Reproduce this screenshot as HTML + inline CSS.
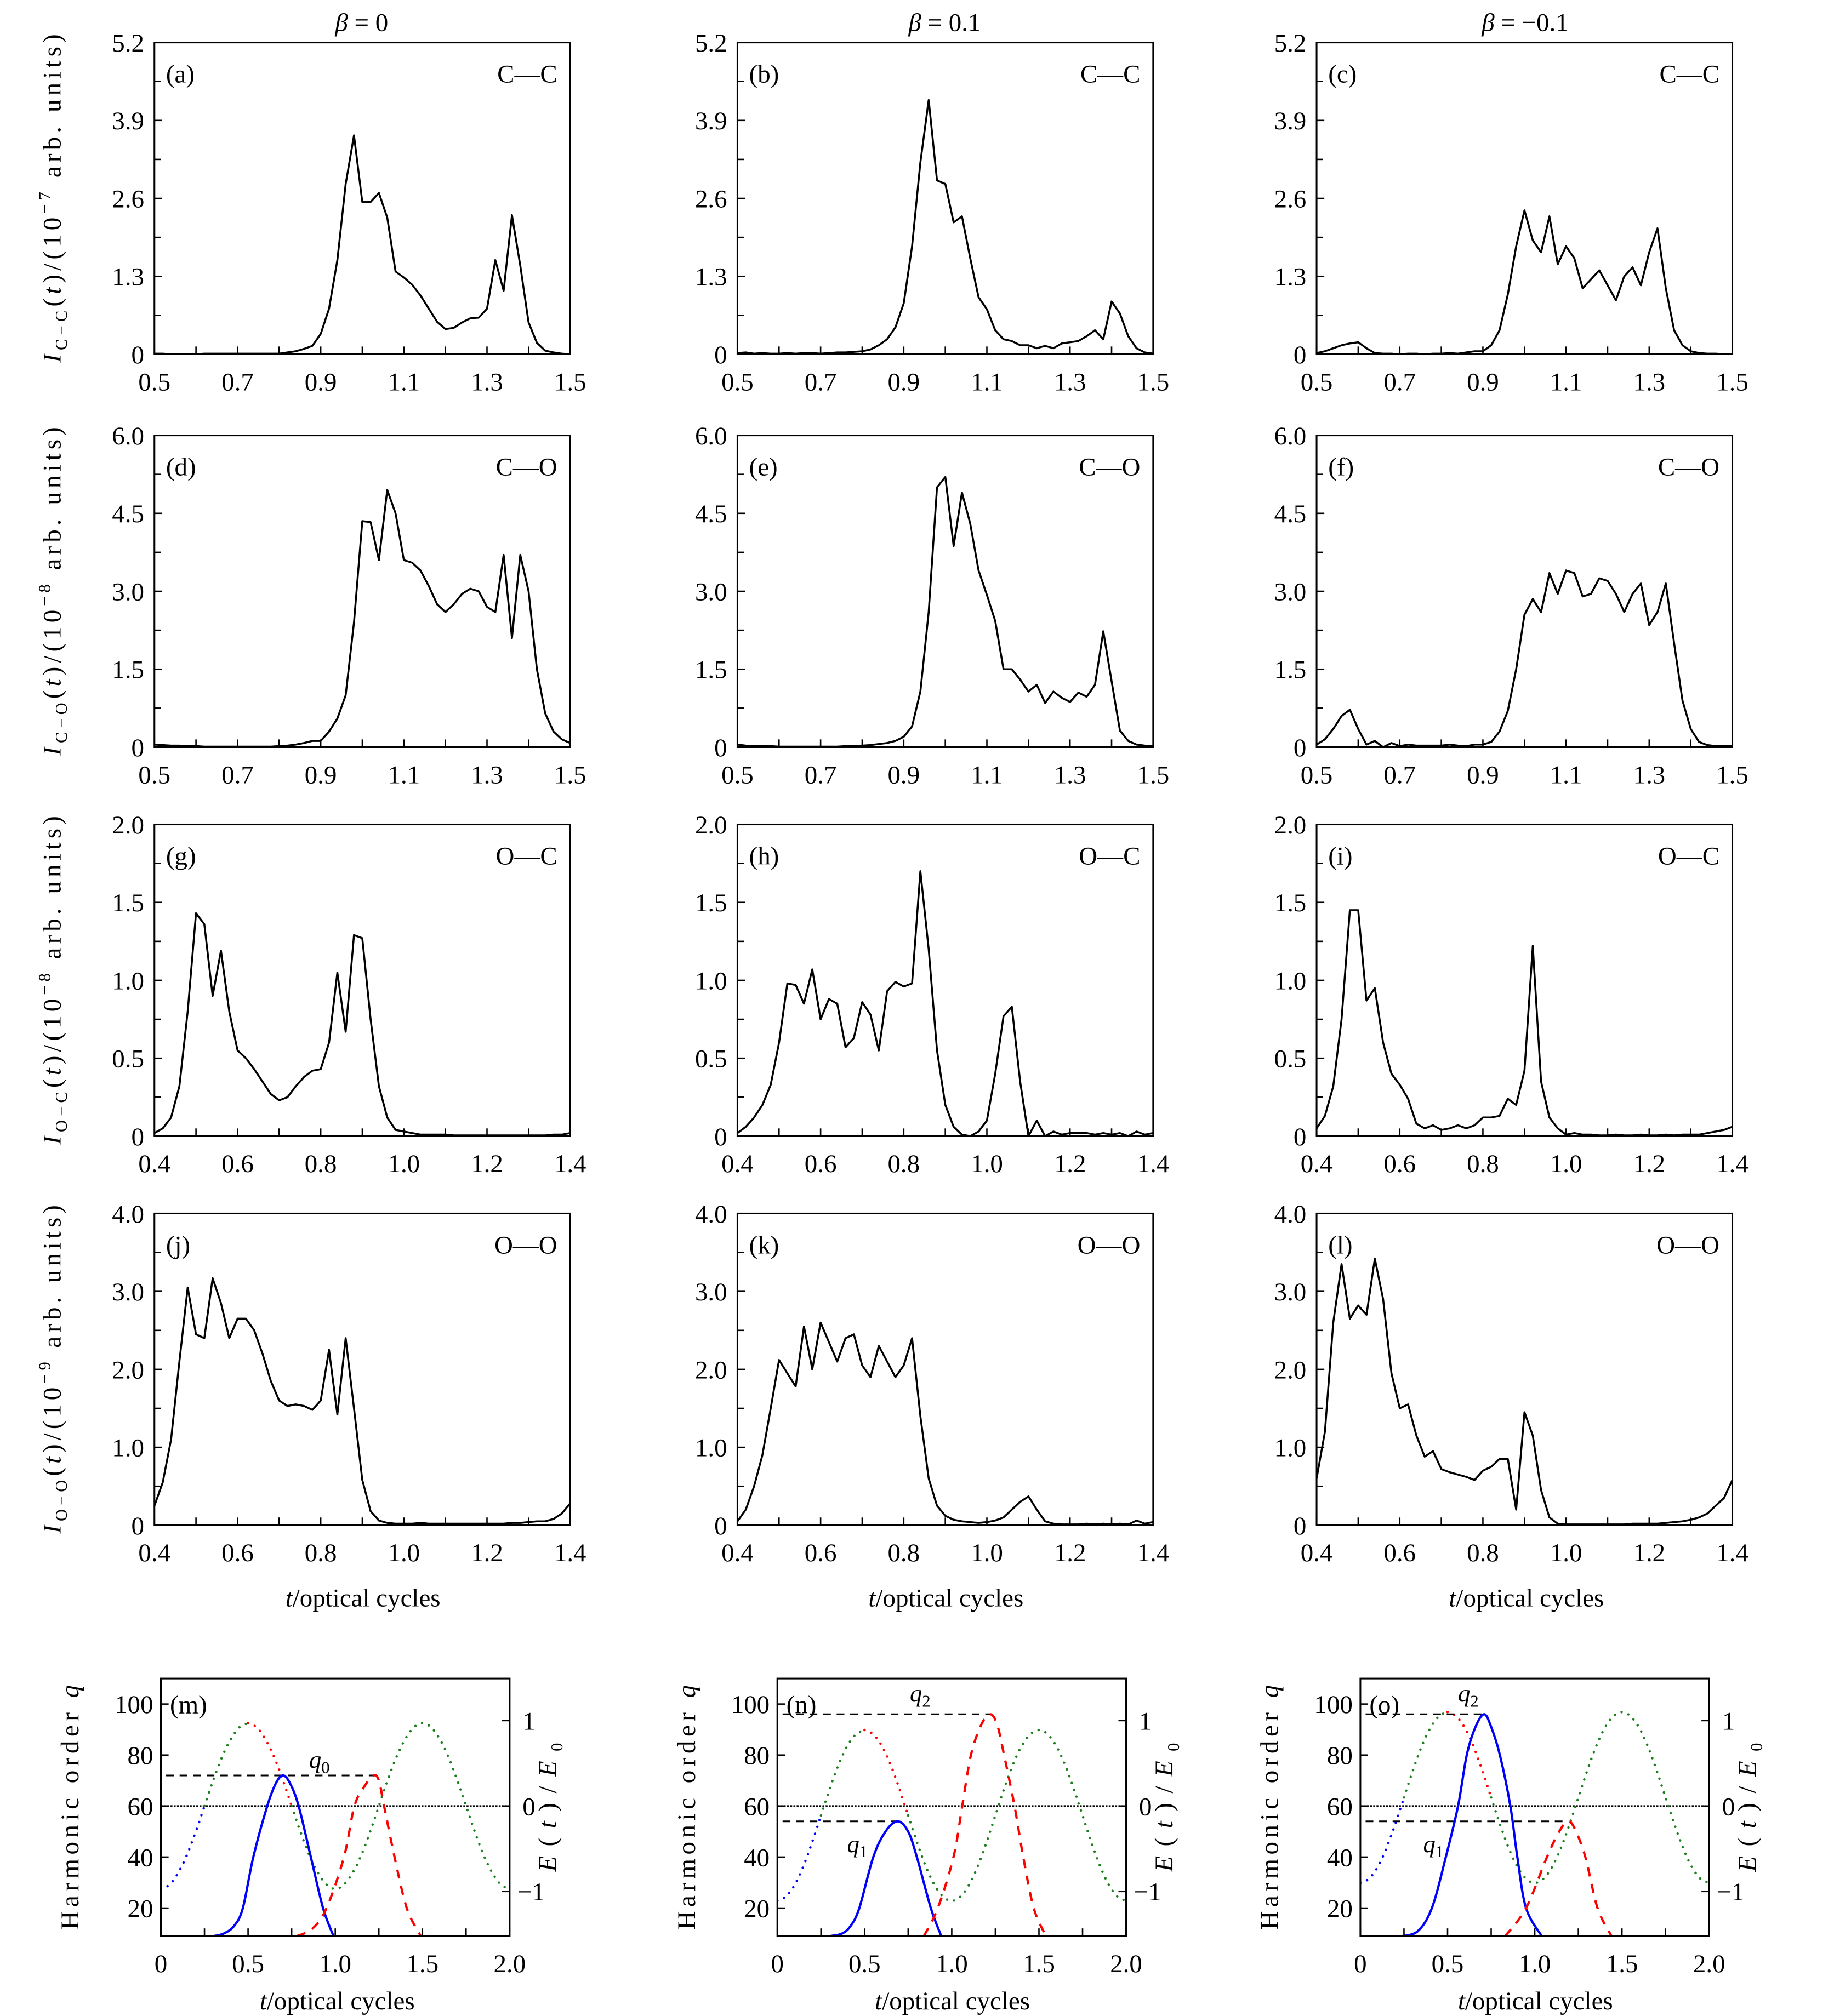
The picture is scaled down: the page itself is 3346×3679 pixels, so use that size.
<!DOCTYPE html>
<html><head><meta charset="utf-8">
<style>
html,body{margin:0;padding:0;background:#fff;}
svg{display:block;}
text{font-family:"Liberation Serif",serif;fill:#000;}
</style></head>
<body>
<svg id="fig" xmlns="http://www.w3.org/2000/svg" viewBox="0 0 1425 1565" width="3346" height="3679" preserveAspectRatio="none">
<rect x="0" y="0" width="1425" height="1565" fill="#fff"/>
<g font-size="20" text-anchor="middle">
 <text x="281" y="24"><tspan font-style="italic">β</tspan> = 0</text>
 <text x="734" y="24"><tspan font-style="italic">β</tspan> = 0.1</text>
 <text x="1185" y="24"><tspan font-style="italic">β</tspan> = −0.1</text>
</g>
<g font-size="20" text-anchor="middle">
 <text textLength="255" lengthAdjust="spacing" transform="translate(47,154) rotate(-90)"><tspan font-style="italic">I</tspan><tspan font-size="13" dy="5">C−C</tspan><tspan dy="-5">(</tspan><tspan font-style="italic">t</tspan>)/(10<tspan font-size="13" dy="-8">−7</tspan><tspan dy="8"> arb. units)</tspan></text>
 <text textLength="255" lengthAdjust="spacing" transform="translate(47,459) rotate(-90)"><tspan font-style="italic">I</tspan><tspan font-size="13" dy="5">C−O</tspan><tspan dy="-5">(</tspan><tspan font-style="italic">t</tspan>)/(10<tspan font-size="13" dy="-8">−8</tspan><tspan dy="8"> arb. units)</tspan></text>
 <text textLength="255" lengthAdjust="spacing" transform="translate(47,761) rotate(-90)"><tspan font-style="italic">I</tspan><tspan font-size="13" dy="5">O−C</tspan><tspan dy="-5">(</tspan><tspan font-style="italic">t</tspan>)/(10<tspan font-size="13" dy="-8">−8</tspan><tspan dy="8"> arb. units)</tspan></text>
 <text textLength="255" lengthAdjust="spacing" transform="translate(47,1063) rotate(-90)"><tspan font-style="italic">I</tspan><tspan font-size="13" dy="5">O−O</tspan><tspan dy="-5">(</tspan><tspan font-style="italic">t</tspan>)/(10<tspan font-size="13" dy="-8">−9</tspan><tspan dy="8"> arb. units)</tspan></text>
</g>
<g font-size="20" text-anchor="middle">
 <text x="282" y="1247"><tspan font-style="italic">t</tspan>/optical cycles</text>
 <text x="735" y="1247"><tspan font-style="italic">t</tspan>/optical cycles</text>
 <text x="1186" y="1247"><tspan font-style="italic">t</tspan>/optical cycles</text>
 <text x="262" y="1560"><tspan font-style="italic">t</tspan>/optical cycles</text>
 <text x="740" y="1560"><tspan font-style="italic">t</tspan>/optical cycles</text>
 <text x="1193" y="1560"><tspan font-style="italic">t</tspan>/optical cycles</text>
</g>
<g font-size="20" text-anchor="middle">
 <text textLength="190" lengthAdjust="spacing" transform="translate(61,1403) rotate(-90)">Harmonic order <tspan font-style="italic">q</tspan></text>
 <text textLength="190" lengthAdjust="spacing" transform="translate(540,1403) rotate(-90)">Harmonic order <tspan font-style="italic">q</tspan></text>
 <text textLength="190" lengthAdjust="spacing" transform="translate(993,1403) rotate(-90)">Harmonic order <tspan font-style="italic">q</tspan></text>
 <text textLength="100" lengthAdjust="spacing" transform="translate(432,1403) rotate(-90)"><tspan font-style="italic">E</tspan>(<tspan font-style="italic">t</tspan>)/<tspan font-style="italic">E</tspan><tspan font-size="13" dy="5">0</tspan></text>
 <text textLength="100" lengthAdjust="spacing" transform="translate(911,1403) rotate(-90)"><tspan font-style="italic">E</tspan>(<tspan font-style="italic">t</tspan>)/<tspan font-style="italic">E</tspan><tspan font-size="13" dy="5">0</tspan></text>
 <text textLength="100" lengthAdjust="spacing" transform="translate(1364,1403) rotate(-90)"><tspan font-style="italic">E</tspan>(<tspan font-style="italic">t</tspan>)/<tspan font-style="italic">E</tspan><tspan font-size="13" dy="5">0</tspan></text>
</g>
</svg>
<script>
// ===== data: ionization-rate curves, t grid = start + 0.02*i =====
const ccBeta0=[0.01,0.01,0,0,0,0,0.01,0.01,0.01,0.01,0.01,0.01,0.01,0.01,0.01,0.01,0.03,0.05,0.09,0.14,0.34,0.76,1.57,2.84,3.65,2.54,2.54,2.69,2.28,1.38,1.28,1.16,0.98,0.76,0.54,0.42,0.44,0.53,0.60,0.61,0.76,1.57,1.06,2.32,1.48,0.53,0.19,0.06,0.03,0.01,0];
const ccBetaP=[0.02,0.03,0.01,0.02,0.01,0.01,0.02,0.01,0.02,0.02,0.01,0.02,0.03,0.03,0.04,0.05,0.08,0.15,0.25,0.45,0.85,1.8,3.2,4.24,2.9,2.84,2.2,2.3,1.6,0.95,0.75,0.4,0.25,0.22,0.15,0.15,0.1,0.14,0.1,0.18,0.2,0.22,0.3,0.4,0.25,0.88,0.68,0.3,0.1,0.03,0.01];
const ccBetaN=[0.02,0.05,0.1,0.15,0.18,0.2,0.1,0.02,0.01,0.01,0,0.01,0.01,0,0.01,0.01,0.02,0.01,0.03,0.05,0.05,0.15,0.4,1.0,1.8,2.4,1.9,1.7,2.3,1.5,1.8,1.6,1.1,1.25,1.4,1.15,0.9,1.3,1.45,1.15,1.7,2.1,1.1,0.4,0.15,0.05,0.02,0.01,0.01,0,0];
const coBeta0=[0.05,0.04,0.03,0.03,0.02,0.02,0.01,0.01,0.01,0.01,0.01,0.01,0.01,0.01,0.01,0.02,0.03,0.05,0.08,0.12,0.12,0.3,0.55,1.0,2.4,4.35,4.33,3.6,4.95,4.5,3.6,3.55,3.4,3.1,2.75,2.6,2.75,2.95,3.05,3.0,2.7,2.6,3.7,2.1,3.7,3.0,1.5,0.65,0.3,0.15,0.08];
const coBetaP=[0.05,0.03,0.02,0.02,0.02,0.01,0.01,0.01,0.01,0.01,0.01,0.01,0.01,0.02,0.02,0.03,0.04,0.06,0.08,0.12,0.2,0.4,1.07,2.6,5.0,5.2,3.87,4.9,4.3,3.4,2.93,2.43,1.5,1.5,1.3,1.07,1.2,0.85,1.07,0.95,0.87,1.05,0.97,1.2,2.23,1.27,0.32,0.12,0.05,0.03,0.02];
const coBetaN=[0.05,0.15,0.35,0.6,0.72,0.35,0.05,0.12,0,0.08,0.02,0.05,0.03,0.03,0.03,0.03,0.05,0.03,0.02,0.05,0.05,0.1,0.3,0.7,1.5,2.55,2.85,2.6,3.35,2.95,3.4,3.35,2.9,2.95,3.25,3.2,2.95,2.6,2.95,3.15,2.35,2.6,3.15,2.0,0.9,0.35,0.1,0.04,0.02,0.02,0.03];
const ocBeta0=[0.02,0.05,0.12,0.32,0.8,1.43,1.36,0.9,1.19,0.8,0.55,0.5,0.43,0.35,0.27,0.23,0.25,0.32,0.38,0.42,0.43,0.6,1.05,0.67,1.29,1.27,0.75,0.32,0.12,0.04,0.03,0.02,0.01,0.01,0.01,0.01,0.005,0.005,0.005,0.005,0.005,0.005,0.005,0.005,0.005,0.005,0.005,0.005,0.01,0.01,0.02];
const ocBetaP=[0.02,0.06,0.12,0.2,0.33,0.6,0.98,0.97,0.85,1.07,0.75,0.88,0.85,0.57,0.63,0.86,0.78,0.55,0.93,0.99,0.96,0.98,1.7,1.2,0.55,0.2,0.06,0.01,0,0.03,0.1,0.4,0.77,0.83,0.35,0,0.1,0,0.03,0.01,0.02,0.02,0.02,0.01,0.02,0.01,0.02,0,0.03,0.01,0.02];
const ocBetaN=[0.05,0.13,0.32,0.75,1.45,1.45,0.87,0.95,0.6,0.4,0.33,0.24,0.08,0.05,0.07,0.04,0.05,0.07,0.05,0.07,0.12,0.12,0.13,0.24,0.2,0.42,1.22,0.35,0.12,0.05,0.01,0.02,0.01,0.01,0.005,0.005,0.01,0.005,0.005,0.01,0.005,0.005,0.01,0.005,0.01,0.01,0.01,0.02,0.03,0.04,0.06];
const ooBeta0=[0.25,0.55,1.1,2.1,3.05,2.45,2.4,3.17,2.85,2.4,2.65,2.65,2.5,2.2,1.85,1.6,1.53,1.55,1.53,1.48,1.6,2.25,1.42,2.4,1.5,0.58,0.18,0.06,0.03,0.02,0.02,0.02,0.03,0.02,0.02,0.02,0.02,0.02,0.02,0.02,0.02,0.02,0.02,0.03,0.03,0.04,0.05,0.05,0.08,0.15,0.28];
const ooBetaP=[0.05,0.2,0.5,0.9,1.5,2.12,1.95,1.78,2.55,2.0,2.6,2.35,2.1,2.4,2.45,2.05,1.9,2.3,2.1,1.9,2.05,2.4,1.4,0.6,0.25,0.12,0.07,0.05,0.04,0.03,0.04,0.06,0.1,0.2,0.3,0.37,0.2,0.05,0.02,0.01,0.01,0.01,0.02,0.01,0.02,0.01,0.02,0.01,0.06,0.02,0.04];
const ooBetaN=[0.6,1.2,2.6,3.35,2.65,2.82,2.7,3.42,2.9,1.95,1.5,1.55,1.15,0.88,0.95,0.72,0.68,0.65,0.62,0.58,0.7,0.75,0.85,0.85,0.2,1.45,1.15,0.45,0.1,0.02,0.01,0.01,0.01,0.01,0.01,0.01,0.01,0.01,0.02,0.02,0.02,0.02,0.03,0.04,0.05,0.07,0.1,0.15,0.25,0.35,0.58];

// ===== tick values/labels =====
const ccTicks=[0,1.3,2.6,3.9,5.2]; const ccTickLabels=['0','1.3','2.6','3.9','5.2'];
const coTicks=[0,1.5,3.0,4.5,6.0]; const coTickLabels=['0','1.5','3.0','4.5','6.0'];
const ocTicks=[0,0.5,1.0,1.5,2.0]; const ocTickLabels=['0','0.5','1.0','1.5','2.0'];
const ooTicks=[0,1.0,2.0,3.0,4.0]; const ooTickLabels=['0','1.0','2.0','3.0','4.0'];
const xTicksA=[0.5,0.7,0.9,1.1,1.3,1.5]; const xTickLabelsA=['0.5','0.7','0.9','1.1','1.3','1.5'];
const xTicksB=[0.4,0.6,0.8,1.0,1.2,1.4]; const xTickLabelsB=['0.4','0.6','0.8','1.0','1.2','1.4'];
const qTicks=[20,40,60,80,100]; const qTickLabels=['20','40','60','80','100'];
const eTicks=[-1,0,1]; const eTickLabels=['−1','0','1'];
const tTicks=[0,0.5,1.0,1.5,2.0]; const tTickLabels=['0','0.5','1.0','1.5','2.0'];

// ===== bottom panels: field E(t)/E0 sampled every 0.05 cycle from t=0 =====
const fieldM=[-0.97,-0.92,-0.78,-0.57,-0.3,0,0.3,0.57,0.78,0.92,0.97,0.92,0.78,0.57,0.3,0,-0.3,-0.57,-0.78,-0.92,-0.97,-0.92,-0.78,-0.57,-0.3,0,0.3,0.57,0.78,0.92,0.97,0.92,0.78,0.57,0.3,0,-0.3,-0.57,-0.78,-0.92,-0.97];
const fieldN=[-1.11,-1.06,-0.92,-0.7,-0.42,-0.11,0.2,0.48,0.7,0.84,0.89,0.84,0.7,0.48,0.2,-0.11,-0.42,-0.7,-0.92,-1.06,-1.11,-1.06,-0.92,-0.7,-0.42,-0.11,0.2,0.48,0.7,0.84,0.89,0.84,0.7,0.48,0.2,-0.11,-0.42,-0.7,-0.92,-1.06,-1.11];
const fieldO=[-0.9,-0.85,-0.71,-0.49,-0.21,0.1,0.41,0.69,0.91,1.05,1.1,1.05,0.91,0.69,0.41,0.1,-0.21,-0.49,-0.71,-0.85,-0.9,-0.85,-0.71,-0.49,-0.21,0.1,0.41,0.69,0.91,1.05,1.1,1.05,0.91,0.69,0.41,0.1,-0.21,-0.49,-0.71,-0.85,-0.9];
// harmonic order vs time (blue = first return, red = second)
const blueM_t=[0.30,0.36,0.42,0.47,0.53,0.61,0.66,0.70,0.74,0.79,0.86,0.93,0.99];
const blueM_q=[9,10,13,20,40,60,69,72,69,60,40,20,9];
const redM_t=[0.78,0.87,0.95,1.05,1.11,1.17,1.22,1.25,1.28,1.34,1.41,1.49];
const redM_q=[9,12,20,40,60,68,72,70,60,40,20,9];
const blueN_t=[0.30,0.37,0.42,0.47,0.55,0.62,0.69,0.75,0.80,0.88,0.94];
const blueN_q=[9,10,13,20,40,50,54,50,40,20,9];
const redN_t=[0.84,0.92,1.01,1.06,1.11,1.17,1.22,1.26,1.30,1.36,1.41,1.47,1.54];
const redN_q=[9,20,40,60,80,92,96,92,80,60,40,20,9];
const blueO_t=[0.24,0.33,0.41,0.49,0.56,0.61,0.66,0.71,0.75,0.80,0.86,0.90,0.95,1.04];
const blueO_q=[9,11,20,40,60,80,91,96,91,80,60,40,20,9];
const redO_t=[0.83,0.95,1.07,1.14,1.19,1.23,1.29,1.36,1.44];
const redO_q=[9,20,40,50,54,51,40,20,9];
const cutoffM=[72]; const cutoffN=[96,54]; const cutoffO=[96,54];

const NS='http://www.w3.org/2000/svg';
const svg=document.getElementById('fig');
function mk(tag,attrs,parent){const e=document.createElementNS(NS,tag);for(const k in attrs)e.setAttribute(k,attrs[k]);parent.appendChild(e);return e;}

const colX=[120,573,1023], W=323, H=242, rowTop=[33,338,640,942];
const rows=[
 {ticks:ccTicks,labels:ccTickLabels,ymax:5.2,x0:0.5,xt:xTicksA,xl:xTickLabelsA,series:[ccBeta0,ccBetaP,ccBetaN],bond:'C—C',ids:['a','b','c']},
 {ticks:coTicks,labels:coTickLabels,ymax:6.0,x0:0.5,xt:xTicksA,xl:xTickLabelsA,series:[coBeta0,coBetaP,coBetaN],bond:'C—O',ids:['d','e','f']},
 {ticks:ocTicks,labels:ocTickLabels,ymax:2.0,x0:0.4,xt:xTicksB,xl:xTickLabelsB,series:[ocBeta0,ocBetaP,ocBetaN],bond:'O—C',ids:['g','h','i']},
 {ticks:ooTicks,labels:ooTickLabels,ymax:4.0,x0:0.4,xt:xTicksB,xl:xTickLabelsB,series:[ooBeta0,ooBetaP,ooBetaN],bond:'O—O',ids:['j','k','l']}
];

rows.forEach((r,ri)=>{
 r.series.forEach((vals,ci)=>{
  const id=r.ids[ci];
  const xL=colX[ci], yT=rowTop[ri], yB=yT+H;
  const X=t=>xL+(t-r.x0)*W;
  const Y=v=>yB-v/r.ymax*H;
  const g=mk('g',{},svg);
  
  
  const cp=mk('clipPath',{id:'clip-'+id},g);
  mk('rect',{x:xL,y:yT,width:W,height:H},cp);
  r.ticks.forEach((tv,k)=>{
   const t=mk('line',{x1:xL,x2:xL+6,y1:Y(tv),y2:Y(tv),stroke:'#000','stroke-width':1.1},g);
   
   
   if(k>0){
    const mv=(tv+r.ticks[k-1])/2;
    const m=mk('line',{x1:xL,x2:xL+5,y1:Y(mv),y2:Y(mv),stroke:'#000','stroke-width':1.1},g);
    
    
   }
   const lb=mk('text',{x:xL-8,y:Y(tv)+7,'font-size':20,'text-anchor':'end'},g);
   
   
   lb.textContent=r.labels[k];
  });
  r.xt.forEach((xv,k)=>{
   const t=mk('line',{x1:X(xv),x2:X(xv),y1:yB,y2:yB-6,stroke:'#000','stroke-width':1.1},g);
   
   
   if(k>0){
    const mv=(xv+r.xt[k-1])/2;
    const m=mk('line',{x1:X(mv),x2:X(mv),y1:yB,y2:yB-6,stroke:'#000','stroke-width':1.1},g);
    
    
   }
   const lb=mk('text',{x:X(xv),y:yB+28,'font-size':20,'text-anchor':'middle'},g);
   
   
   lb.textContent=r.xl[k];
  });
  const d=vals.map((v,i)=>(i?'L':'M')+X(r.x0+0.02*i).toFixed(2)+','+Y(v).toFixed(2)).join('');
  const p=mk('path',{d:d,fill:'none',stroke:'#000','stroke-width':1.5,'stroke-linejoin':'round','clip-path':'url(#clip-'+id+')'},g);
  
  
  const fr=mk('rect',{x:xL,y:yT,width:W,height:H,fill:'none',stroke:'#000','stroke-width':1.3},g);
  
  
  const pl=mk('text',{x:xL+9,y:yT+31,'font-size':20},g);
  
  
  pl.textContent='('+id+')';
  const bl=mk('text',{x:xL+W-10,y:yT+31,'font-size':20,'text-anchor':'end'},g);
  
  
  bl.textContent=r.bond;
 });
});

// ===== bottom panels =====
const bX=[125,604,1057], BW=271, bTop=1303, bBot=1503, qMin=9, qMax=110;
const bottom=[
 {id:'m',field:fieldM,bt:blueM_t,bq:blueM_q,rt:redM_t,rq:redM_q,cut:cutoffM,cutEnd:[1.22],labels:[['q','0',0.85,78]]},
 {id:'n',field:fieldN,bt:blueN_t,bq:blueN_q,rt:redN_t,rq:redN_q,cut:cutoffN,cutEnd:[1.22,0.69],labels:[['q','2',0.76,104],['q','1',0.4,45]]},
 {id:'o',field:fieldO,bt:blueO_t,bq:blueO_q,rt:redO_t,rq:redO_q,cut:cutoffO,cutEnd:[0.71,1.19],labels:[['q','2',0.56,104],['q','1',0.36,45]]}
];
function smooth(pts){
 let d='M'+pts[0][0].toFixed(2)+','+pts[0][1].toFixed(2);
 for(let i=0;i<pts.length-1;i++){
  const p0=pts[Math.max(0,i-1)],p1=pts[i],p2=pts[i+1],p3=pts[Math.min(pts.length-1,i+2)];
  const c1=[p1[0]+(p2[0]-p0[0])/6,p1[1]+(p2[1]-p0[1])/6];
  const c2=[p2[0]-(p3[0]-p1[0])/6,p2[1]-(p3[1]-p1[1])/6];
  d+='C'+c1[0].toFixed(2)+','+c1[1].toFixed(2)+' '+c2[0].toFixed(2)+','+c2[1].toFixed(2)+' '+p2[0].toFixed(2)+','+p2[1].toFixed(2);
 }
 return d;
}
bottom.forEach((b,ci)=>{
 const xL=bX[ci], xR=xL+BW;
 const X=t=>xL+t/2*BW;
 const Y=q=>bBot-(q-qMin)/(qMax-qMin)*(bBot-bTop);
 const YE=e=>Y(60+e*33.5);
 const g=mk('g',{},svg);
 
 
 const cp=mk('clipPath',{id:'clip-'+b.id},g);
 mk('rect',{x:xL,y:bTop,width:BW,height:bBot-bTop},cp);
 const inner=mk('g',{'clip-path':'url(#clip-'+b.id+')'},g);
 const z=mk('line',{x1:xL,x2:xR,y1:YE(0),y2:YE(0),stroke:'#000','stroke-width':1.3,'stroke-dasharray':'1.5 1'},inner);
 
 
 const segs=[[0,5,'#0000ff'],[5,10,'#1a7f1a'],[10,15,'#ff0000'],[15,40,'#1a7f1a']];
 segs.forEach(s=>{
  const pts=[];
  for(let i=s[0];i<=s[1];i++)pts.push([X(0.05*i),YE(b.field[i])]);
  const fp=mk('path',{d:smooth(pts),fill:'none',stroke:s[2],'stroke-width':1.9,'stroke-linecap':'round','stroke-dasharray':'0.01 5.6'},inner);
  
  
 });
 b.cut.forEach((q,k)=>{
  const c=mk('line',{x1:X(0.03),x2:X(b.cutEnd[k]),y1:Y(q),y2:Y(q),stroke:'#000','stroke-width':1.3,'stroke-dasharray':'6 4.5'},inner);
  
  
 });
 const bp=mk('path',{d:smooth(b.bt.map((t,i)=>[X(t),Y(b.bq[i])])),fill:'none',stroke:'#0000ff','stroke-width':1.8},inner);
 
 
 const rp=mk('path',{d:smooth(b.rt.map((t,i)=>[X(t),Y(b.rq[i])])),fill:'none',stroke:'#ff0000','stroke-width':1.8,'stroke-dasharray':'7 6'},inner);
 
 
 qTicks.forEach((q,k)=>{
  const t=mk('line',{x1:xL,x2:xL+6,y1:Y(q),y2:Y(q),stroke:'#000','stroke-width':1.1},g);
  
  
  const lb=mk('text',{x:xL-6,y:Y(q)+7,'font-size':20,'text-anchor':'end'},g);
  
  
  lb.textContent=qTickLabels[k];
 });
 eTicks.forEach((e,k)=>{
  const t=mk('line',{x1:xR-6,x2:xR,y1:YE(e),y2:YE(e),stroke:'#000','stroke-width':1.1},g);
  
  
  const lb=mk('text',{x:xR+(e<0?6:10),y:YE(e)+7,'font-size':20},g);
  
  
  lb.textContent=eTickLabels[k];
 });
 tTicks.forEach((tv,k)=>{
  const t=mk('line',{x1:X(tv),x2:X(tv),y1:bBot,y2:bBot-6,stroke:'#000','stroke-width':1.1},g);
  
  
  if(k>0){
   const mv=(tv+tTicks[k-1])/2;
   const m=mk('line',{x1:X(mv),x2:X(mv),y1:bBot,y2:bBot-6,stroke:'#000','stroke-width':1.1},g);
   
   
  }
  const lb=mk('text',{x:X(tv),y:bBot+28,'font-size':20,'text-anchor':'middle'},g);
  
  
  lb.textContent=tTickLabels[k];
 });
 const fr=mk('rect',{x:xL,y:bTop,width:BW,height:bBot-bTop,fill:'none',stroke:'#000','stroke-width':1.3},g);
 
 
 const pl=mk('text',{x:xL+7,y:bTop+27,'font-size':20},g);
 
 
 pl.textContent='('+b.id+')';
 b.labels.forEach(l=>{
  const tx=mk('text',{x:X(l[2]),y:Y(l[3])+6,'font-size':19,'font-style':'italic'},g);
  
  
  tx.textContent=l[0];
  const sub=mk('tspan',{'font-size':13,dy:4,'font-style':'normal'},tx);
  sub.textContent=l[1];
 });
});
</script>
</body></html>
